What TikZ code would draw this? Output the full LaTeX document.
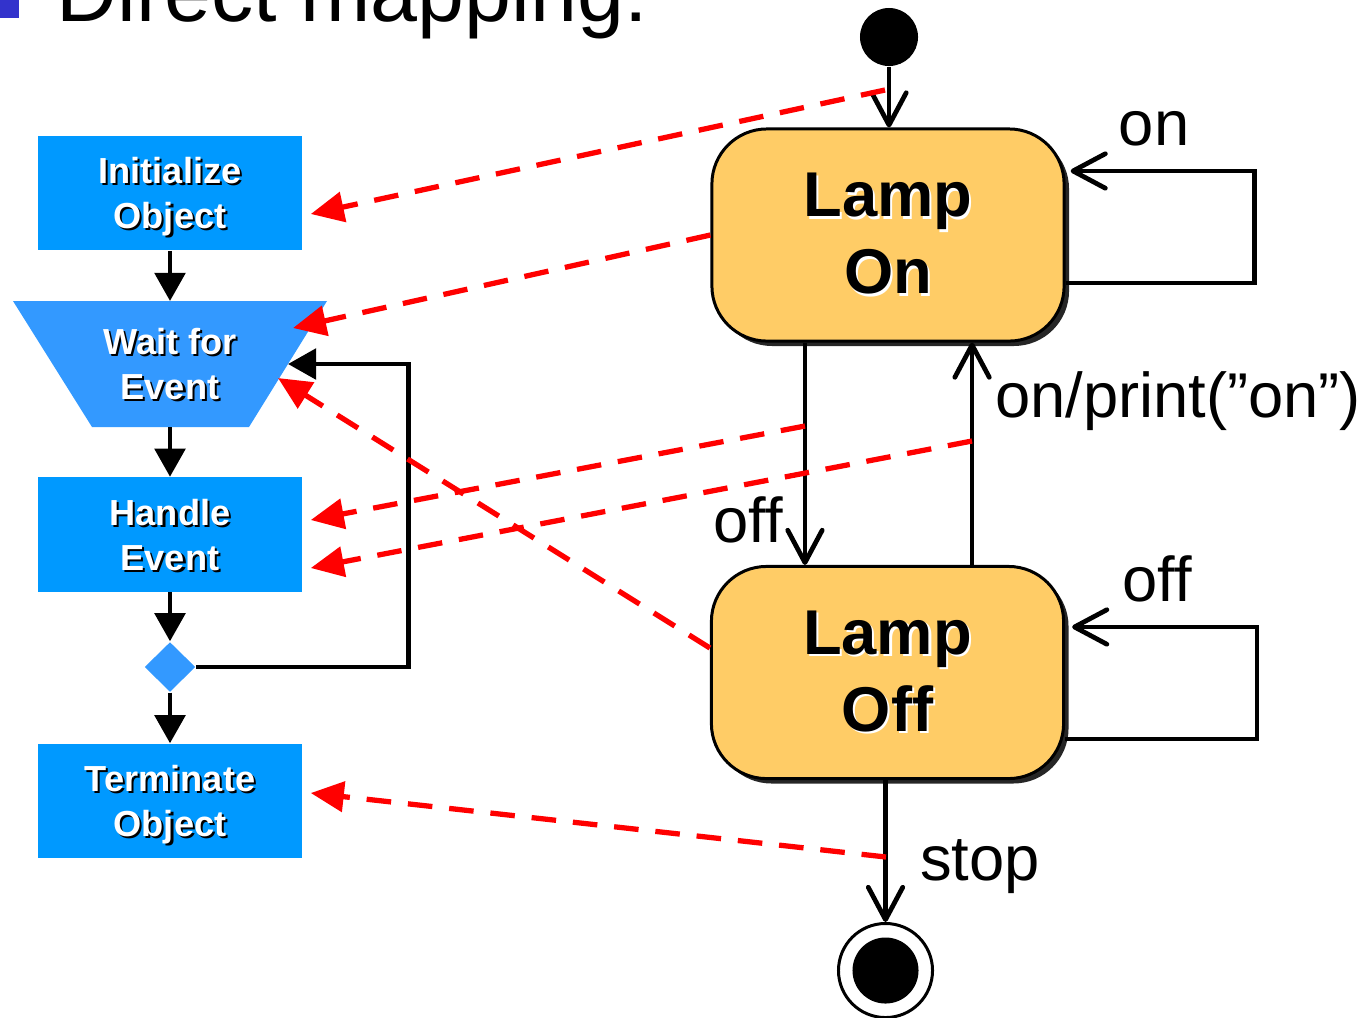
\documentclass[tikz,border=0pt]{standalone}
\usepackage{fontspec}
\setmainfont{Liberation Sans}
\usepackage{xcolor}
\usepackage{tikz}
\usetikzlibrary{arrows.meta,positioning,shapes.geometric,shadows}

\definecolor{boxblue}{RGB}{0,153,255}
\definecolor{waitblue}{RGB}{51,153,255}
\definecolor{lampfill}{RGB}{255,204,102}
\definecolor{bulletblue}{RGB}{51,51,204}

% text with a small offset shadow behind it
\newcommand{\shtxt}[2]{\makebox[0pt][l]{\hspace{0.6pt}\raisebox{-0.6pt}{\textcolor{#1}{#2}}}#2}

\begin{document}
\begin{tikzpicture}[x=0.01cm, y=-0.01cm,
  flowbox/.style={rectangle, fill=boxblue, minimum width=2.64cm, minimum height=1.14cm, inner sep=0pt,
    text depth=0pt, text=white, align=center, font=\bfseries\fontsize{10.3}{12.8}\selectfont},
  flowtext/.style={inner sep=0pt, text=white, align=center, font=\bfseries\fontsize{10.3}{12.8}\selectfont},
  flowarrow/.style={line width=1.4pt, -{Triangle[length=8pt,width=8.6pt]}},
  lampstate/.style={rectangle, rounded corners=0.55cm, draw, line width=0.85pt, fill=lampfill,
    minimum width=3.52cm, minimum height=2.12cm, align=center, font=\bfseries\fontsize{18}{21.9}\selectfont,
    drop shadow={shadow xshift=1.4pt, shadow yshift=-1.4pt, fill=black!85, opacity=1}},
  trans/.style={line width=1.35pt, -{Straight Barb[length=9.2pt,width=9.8pt,round]}},
  translabel/.style={inner sep=0pt, anchor=base, font=\fontsize{18}{21.6}\selectfont},
  mapping/.style={red, line width=1.5pt, dash pattern=on 7pt off 4.8pt, -{Triangle[length=9.4pt,width=8.5pt]}}]
  \useasboundingbox (0,0) rectangle (1364,1017);

  % heading
  \fill[bulletblue] (0,-5) rectangle (19,18);
  \node[inner sep=0pt, anchor=base west, font=\fontsize{24}{28}\selectfont] (title) at (56,21) {Direct mapping:};

  % flow chart
  \node[flowbox] (init) at (170,193) {\shtxt{black}{Initialize}\\\shtxt{black}{Object}};
  \fill[waitblue] (13,301) -- (327,301) -- (249,427) -- (92,427) -- cycle;
  \node[flowtext] (wait) at (170,365) {\shtxt{black}{Wait for}\\\shtxt{black}{Event}};
  \coordinate (waitN) at (170,301);
  \coordinate (waitS) at (170,427);
  \coordinate (waitR) at (288,364);
  \coordinate (waitA) at (293,328);
  \coordinate (waitB) at (278,378);
  \node[flowbox] (handle) at (170,534.5) {\shtxt{black}{Handle}\\\shtxt{black}{Event}};
  \node[diamond, fill=waitblue, minimum width=0.51cm, minimum height=0.5cm, inner sep=0pt] (dec) at (170,667) {};
  \node[flowbox] (term) at (170,801) {\shtxt{black}{Terminate}\\\shtxt{black}{Object}};

  \draw[flowarrow] (init) -- (waitN);
  \draw[flowarrow] (waitS) -- (handle);
  \draw[flowarrow] (handle) -- (dec);
  \draw[flowarrow] (dec) -- (term);
  \draw[flowarrow] (dec.east) -- ++(212,0) |- (waitR);

  % state machine
  \node[circle, fill, minimum size=0.58cm, inner sep=0pt] (start) at (889,37) {};
  \node[lampstate] (on) at (888,235) {\shtxt{white}{Lamp}\\\shtxt{white}{On}};
  \node[lampstate] (off) at (887.5,672.5) {\shtxt{white}{Lamp}\\\shtxt{white}{Off}};
  \node[circle, draw, line width=0.85pt, minimum size=0.94cm, inner sep=0pt,
    path picture={\fill (path picture bounding box.center) circle (0.33cm);}] (final) at (885.5,970.5) {};

  \draw[trans] (start) -- (start |- on.north);
  \draw[trans] ([xshift=-0.83cm]on.south) -- ([xshift=-0.83cm]on.south |- off.north);
  \draw[trans] ([xshift=0.845cm]off.north) -- ([xshift=0.845cm]off.north |- on.south);
  \draw[trans] ([yshift=-0.48cm]on.east) -- ++(189,0) |- ([xshift=0.05cm,yshift=0.64cm]on.east);
  \draw[trans] ([yshift=-0.665cm]off.east) -- ++(192,0) |- ([xshift=0.07cm,yshift=0.455cm]off.east);
  \draw[trans] (final |- off.south) -- (final);

  \node[translabel] (onloop) at (1154,145) {on};
  \node[translabel] (offlbl) at (748,542) {off};
  \node[translabel] (onlbl) at (1178,417) {on/print(”on”)};
  \node[translabel] (offloop) at (1157,601) {off};
  \node[translabel] (stoplbl) at (980,880) {stop};

  % mapping between the two
  \coordinate (m1) at (885,90);
  \coordinate (m4) at (805,426);
  \coordinate (m5) at (972,441);
  \coordinate (m6) at (886,857);
  \draw[mapping] (m1) -- ([shift={(8,21)}]init.east);
  \draw[mapping] ([shift={(0,0)}]on.west) -- (waitA);
  \draw[mapping] ([shift={(0,-24.5)}]off.west) -- (waitB);
  \draw[mapping] (m4) -- ([shift={(8,-14.5)}]handle.east);
  \draw[mapping] (m5) -- ([shift={(8,33.5)}]handle.east);
  \draw[mapping] (m6) -- ([shift={(8,-8)}]term.east);
\end{tikzpicture}
\end{document}
